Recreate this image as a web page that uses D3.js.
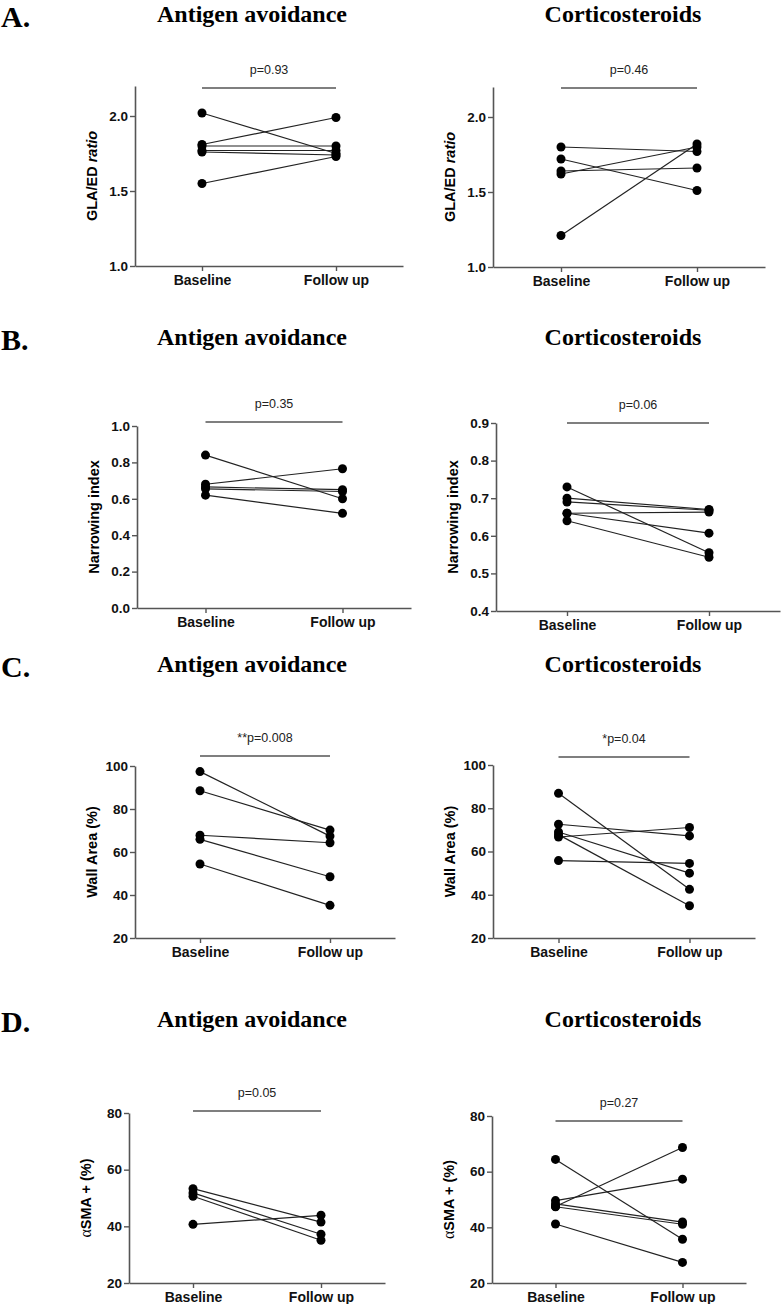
<!DOCTYPE html>
<html lang="en">
<head>
<style>
  body { margin: 0; background: #fff; }
  svg { display: block; }
</style>
</head>
<body>
<svg></svg>
<script src="https://cdn.jsdelivr.net/npm/d3@7/dist/d3.min.js"></script>
<script>
const W = 781, H = 1304;
const svg = d3.select("svg").attr("width", W).attr("height", H);

// ---- data ----
const groups = ["Baseline", "Follow up"];
const rowLetters = ["A.", "B.", "C.", "D."];
const treatments = ["Antigen avoidance", "Corticosteroids"];
const pLabels = ["p=0.93", "p=0.46", "p=0.35", "p=0.06", "**p=0.008", "*p=0.04", "p=0.05", "p=0.27"];

const glaAvoidBaseline = [2.02, 1.81, 1.80, 1.77, 1.76, 1.55];
const glaAvoidFollowup = [1.75, 1.99, 1.80, 1.77, 1.74, 1.73];
const glaCortBaseline = [1.80, 1.72, 1.64, 1.62, 1.21];
const glaCortFollowup = [1.77, 1.51, 1.66, 1.80, 1.82];

const narrowAvoidBaseline = [0.84, 0.68, 0.665, 0.655, 0.62];
const narrowAvoidFollowup = [0.60, 0.765, 0.65, 0.64, 0.52];
const narrowCortBaseline = [0.73, 0.70, 0.69, 0.66, 0.66, 0.64];
const narrowCortFollowup = [0.555, 0.67, 0.668, 0.663, 0.607, 0.543];

const wallAvoidBaseline = [97.4, 88.5, 67.8, 65.9, 54.4];
const wallAvoidFollowup = [67.4, 70.2, 64.3, 48.5, 35.2];
const wallCortBaseline = [86.9, 72.6, 66.7, 69.0, 67.8, 55.8];
const wallCortFollowup = [42.5, 67.2, 71.1, 50.0, 34.9, 54.5];

const smaAvoidBaseline = [53.3, 51.8, 50.6, 40.7];
const smaAvoidFollowup = [41.5, 37.2, 35.1, 43.9];
const smaCortBaseline = [64.4, 47.5, 49.6, 48.4, 47.4, 41.2];
const smaCortFollowup = [35.7, 68.7, 57.3, 41.9, 41.1, 27.4];

const glaTicks = [1.0, 1.5, 2.0];
const narrowAvoidTicks = [0, 0.2, 0.4, 0.6, 0.8, 1.0];
const narrowCortTicks = [0.4, 0.5, 0.6, 0.7, 0.8, 0.9];
const wallTicks = [20, 40, 60, 80, 100];
const smaTicks = [20, 40, 60, 80];

// ---- panel layout ----
const rows = [
  { titleY: 22, label: "gla", tickFmt: d3.format(".1f") },
  { titleY: 345, label: "narrow", tickFmt: d3.format(".1f") },
  { titleY: 672, label: "wall", tickFmt: d3.format("d") },
  { titleY: 1027, label: "sma", tickFmt: d3.format("d") }
];

const panels = [
  { row: 0, col: 0, base: glaAvoidBaseline, follow: glaAvoidFollowup, ticks: glaTicks, top: 2.2,
    ax: 135, aw: 268, yb: 266, yt: 86, pY: 88 },
  { row: 0, col: 1, base: glaCortBaseline, follow: glaCortFollowup, ticks: glaTicks, top: 2.2,
    ax: 493, aw: 272, yb: 267, yt: 87, pY: 88 },
  { row: 1, col: 0, base: narrowAvoidBaseline, follow: narrowAvoidFollowup, ticks: narrowAvoidTicks, top: 1.0,
    ax: 137, aw: 274, yb: 608, yt: 426, pY: 422 },
  { row: 1, col: 1, base: narrowCortBaseline, follow: narrowCortFollowup, ticks: narrowCortTicks, top: 0.9,
    ax: 496, aw: 284, yb: 611, yt: 423, pY: 423 },
  { row: 2, col: 0, base: wallAvoidBaseline, follow: wallAvoidFollowup, ticks: wallTicks, top: 100,
    ax: 135, aw: 260, yb: 938, yt: 766, pY: 756 },
  { row: 2, col: 1, base: wallCortBaseline, follow: wallCortFollowup, ticks: wallTicks, top: 100,
    ax: 493, aw: 262, yb: 938, yt: 765, pY: 757 },
  { row: 3, col: 0, base: smaAvoidBaseline, follow: smaAvoidFollowup, ticks: smaTicks, top: 80,
    ax: 129, aw: 256, yb: 1283, yt: 1113, pY: 1111 },
  { row: 3, col: 1, base: smaCortBaseline, follow: smaCortFollowup, ticks: smaTicks, top: 80,
    ax: 492, aw: 254, yb: 1283, yt: 1116, pY: 1121 }
];

const titleX = [252, 623];
const axisColor = "#555";
const sans = "'Liberation Sans', Arial, sans-serif";
const serif = "'Liberation Serif', 'Times New Roman', serif";

// row letters and treatment titles
rows.forEach((r, i) => {
  svg.append("text")
    .attr("x", 1).attr("y", r.titleY + 5)
    .attr("font-family", serif).attr("font-weight", "bold").attr("font-size", 30)
    .text(rowLetters[i]);
  treatments.forEach((t, j) => {
    svg.append("text")
      .attr("x", titleX[j]).attr("y", r.titleY)
      .attr("text-anchor", "middle")
      .attr("font-family", serif).attr("font-weight", "bold").attr("font-size", 24)
      .text(t);
  });
});

function yLabel(g, kind, x, y) {
  const t = g.append("text")
    .attr("transform", `translate(${x},${y}) rotate(-90)`)
    .attr("text-anchor", "middle")
    .attr("font-family", sans).attr("font-weight", "bold").attr("font-size", 14.5);
  if (kind === "gla") {
    t.append("tspan").text("GLA/ED ");
    t.append("tspan").attr("font-style", "italic").text("ratio");
  } else if (kind === "narrow") {
    t.text("Narrowing index");
  } else if (kind === "wall") {
    t.text("Wall Area (%)");
  } else {
    t.append("tspan").attr("font-family", serif).attr("font-weight", "normal").attr("font-size", 16).text("α");
    t.append("tspan").text("SMA + (%)");
  }
}

panels.forEach((p, i) => {
  const g = svg.append("g");
  const r = rows[p.row];

  const x = d3.scalePoint().domain(groups).range([p.ax, p.ax + p.aw]).padding(0.5);
  const y = d3.scaleLinear().domain([p.ticks[0], p.top]).range([p.yb, p.yt]);

  // y axis
  const yAxis = g.append("g")
    .attr("transform", `translate(${p.ax},0)`)
    .call(d3.axisLeft(y).tickValues(p.ticks).tickFormat(r.tickFmt).tickSize(5).tickSizeOuter(0).tickPadding(2));
  // x axis
  const xAxis = g.append("g")
    .attr("transform", `translate(0,${p.yb})`)
    .call(d3.axisBottom(x).tickSize(5).tickSizeOuter(0).tickPadding(4));

  [yAxis, xAxis].forEach(a => {
    a.select(".domain").attr("stroke", axisColor).attr("stroke-width", 1.6);
    a.selectAll(".tick line").attr("stroke", axisColor).attr("stroke-width", 1.4);
    a.selectAll(".tick text")
      .attr("fill", "#111")
      .attr("font-family", sans).attr("font-weight", "bold").attr("font-size", 13.5);
  });
  xAxis.selectAll(".tick text").attr("font-size", 14);

  yLabel(g, r.label, p.ax - 38, (p.yb + p.yt) / 2);

  // paired lines
  const pairs = p.base.map((b, k) => [b, p.follow[k]]);
  g.selectAll("line.pair").data(pairs).join("line")
    .attr("class", "pair")
    .attr("x1", x(groups[0])).attr("x2", x(groups[1]))
    .attr("y1", d => y(d[0])).attr("y2", d => y(d[1]))
    .attr("stroke", "#222").attr("stroke-width", 1.2);

  // points
  const pts = [];
  p.base.forEach(v => pts.push([groups[0], v]));
  p.follow.forEach(v => pts.push([groups[1], v]));
  g.selectAll("circle").data(pts).join("circle")
    .attr("cx", d => x(d[0])).attr("cy", d => y(d[1]))
    .attr("r", 4.5).attr("fill", "#000");

  // significance bar
  g.append("line")
    .attr("x1", x(groups[0])).attr("x2", x(groups[1]))
    .attr("y1", p.pY).attr("y2", p.pY)
    .attr("stroke", axisColor).attr("stroke-width", 1.5);
  g.append("text")
    .attr("x", (x(groups[0]) + x(groups[1])) / 2).attr("y", p.pY - 14)
    .attr("text-anchor", "middle")
    .attr("font-family", sans).attr("font-size", 12.5).attr("fill", "#222")
    .text(pLabels[i]);
});
</script>
</body>
</html>
